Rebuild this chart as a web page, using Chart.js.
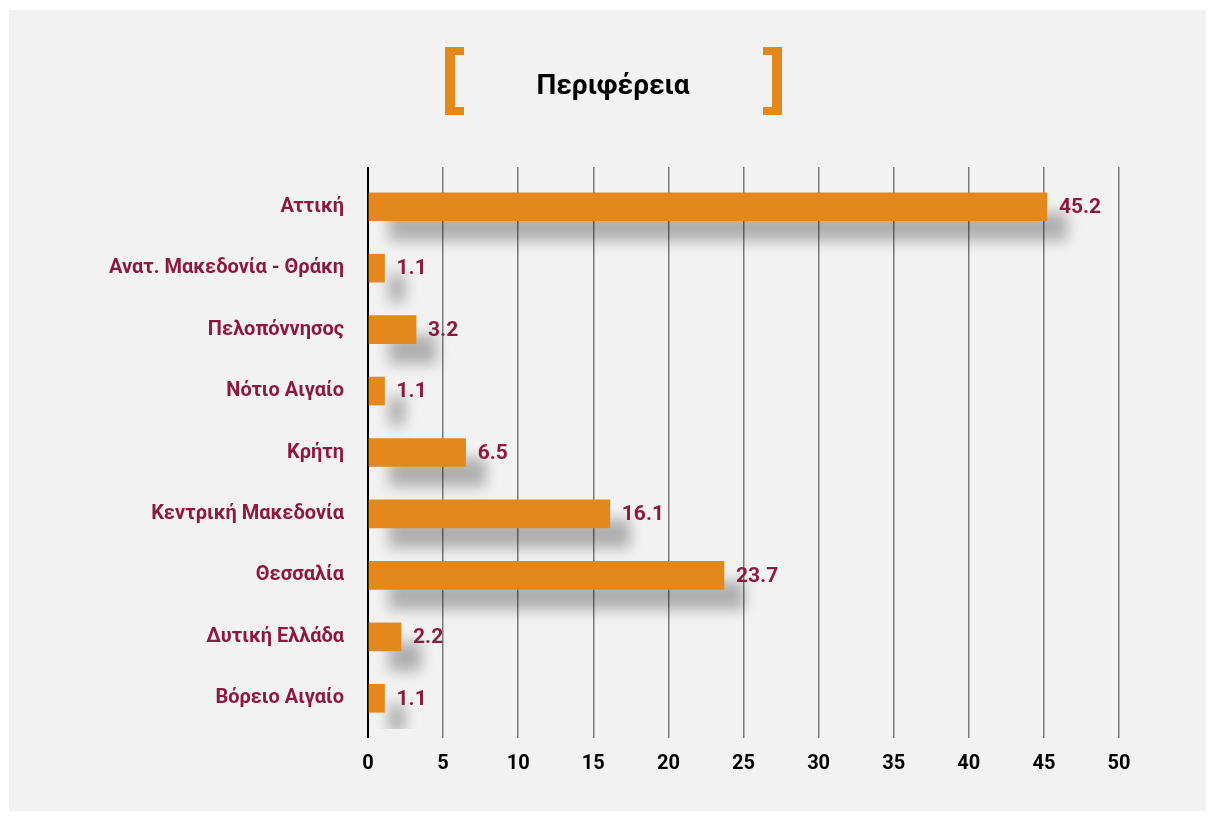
<!DOCTYPE html>
<html>
<head>
<meta charset="utf-8">
<script src="https://cdn.jsdelivr.net/npm/chart.js@4.4.0/dist/chart.umd.min.js"></script>
<style>
  html, body { margin: 0; padding: 0; background: #ffffff; }
  #panel { position: absolute; left: 9px; top: 10px; width: 1197px; height: 801px; background: #f2f2f2; }
  #chart { display: block; }
</style>
</head>
<body>
<div id="panel"><canvas id="chart" width="1197" height="801"></canvas></div>
<script>
var regions = ['Αττική', 'Ανατ. Μακεδονία - Θράκη', 'Πελοπόννησος', 'Νότιο Αιγαίο', 'Κρήτη',
               'Κεντρική Μακεδονία', 'Θεσσαλία', 'Δυτική Ελλάδα', 'Βόρειο Αιγαίο']
var shares = [45.2, 1.1, 3.2, 1.1, 6.5, 16.1, 23.7, 2.2, 1.1]
var title_text = 'Περιφέρεια'

var orange = '#e3891b'
var maroon = '#8c1a40'
var font_family = 'Roboto, "Open Sans", sans-serif'

// shadow under the bars
var bar_shadow = {
    id: 'bar_shadow',
    beforeDatasetsDraw: function (chart) {
        var ctx = chart.ctx
        ctx.save()
        ctx.shadowColor = 'rgba(0,0,0,0.28)'
        ctx.shadowOffsetX = 20
        ctx.shadowOffsetY = 20
        ctx.shadowBlur = 14
    },
    afterDatasetsDraw: function (chart) {
        var ctx = chart.ctx
        ctx.restore()
        // value labels next to bars
        var meta = chart.getDatasetMeta(0)
        ctx.save()
        ctx.fillStyle = maroon
        ctx.font = 'bold 21px ' + font_family
        ctx.textAlign = 'left'
        ctx.textBaseline = 'middle'
        meta.data.forEach(function (bar, i) {
            ctx.fillText(shares[i].toFixed(1), bar.x + 12, bar.y + 1)
        })
        ctx.restore()
    }
}

// title with orange brackets
var title_box = {
    id: 'title_box',
    afterDraw: function (chart) {
        var ctx = chart.ctx
        ctx.save()
        ctx.fillStyle = orange
        ctx.fillRect(436, 37, 10, 68)
        ctx.fillRect(436, 37, 19, 8)
        ctx.fillRect(436, 97, 19, 8)
        ctx.fillRect(763, 37, 10, 68)
        ctx.fillRect(754, 37, 19, 8)
        ctx.fillRect(754, 97, 19, 8)
        ctx.fillStyle = '#000000'
        ctx.font = 'bold 28px ' + font_family
        ctx.textAlign = 'center'
        ctx.textBaseline = 'alphabetic'
        ctx.fillText(title_text, 604, 84)
        ctx.restore()
    }
}

var ctx = document.getElementById('chart').getContext('2d')
var chart = new Chart(ctx, {
    type: 'bar',
    data: {
        labels: regions,
        datasets: [{
            data: shares,
            backgroundColor: orange,
            borderWidth: 0,
            barThickness: 28
        }]
    },
    options: {
        indexAxis: 'y',
        responsive: false,
        animation: false,
        layout: { padding: { top: 157, right: 87, bottom: 0, left: 0 } },
        plugins: {
            legend: { display: false },
            tooltip: { enabled: false }
        },
        scales: {
            x: {
                position: 'bottom',
                min: 0,
                max: 50,
                afterFit: function (scale) { scale.height = 82 },
                border: { display: false },
                grid: {
                    color: function (c) { return c.tick && c.tick.value === 0 ? '#000000' : '#7a7a7a' },
                    lineWidth: function (c) { return c.tick && c.tick.value === 0 ? 2 : 1.5 },
                    tickLength: 9
                },
                ticks: {
                    stepSize: 5,
                    padding: 14,
                    color: '#000000',
                    font: { family: font_family, size: 20, weight: 'bold' }
                }
            },
            x2: {
                position: 'top',
                min: 0,
                max: 50,
                afterFit: function (scale) { scale.height = 9 },
                border: { display: false },
                grid: {
                    drawOnChartArea: false,
                    color: function (c) { return c.tick && c.tick.value === 0 ? '#000000' : '#7a7a7a' },
                    lineWidth: function (c) { return c.tick && c.tick.value === 0 ? 2 : 1.5 },
                    tickLength: 9
                },
                ticks: { display: false, stepSize: 5 }
            },
            y: {
                afterFit: function (scale) { scale.width = 359 },
                border: { display: false },
                grid: { display: false },
                ticks: {
                    padding: 16,
                    color: maroon,
                    font: { family: font_family, size: 20, weight: 'bold' }
                }
            }
        }
    },
    plugins: [bar_shadow, title_box]
})
</script>
</body>
</html>
